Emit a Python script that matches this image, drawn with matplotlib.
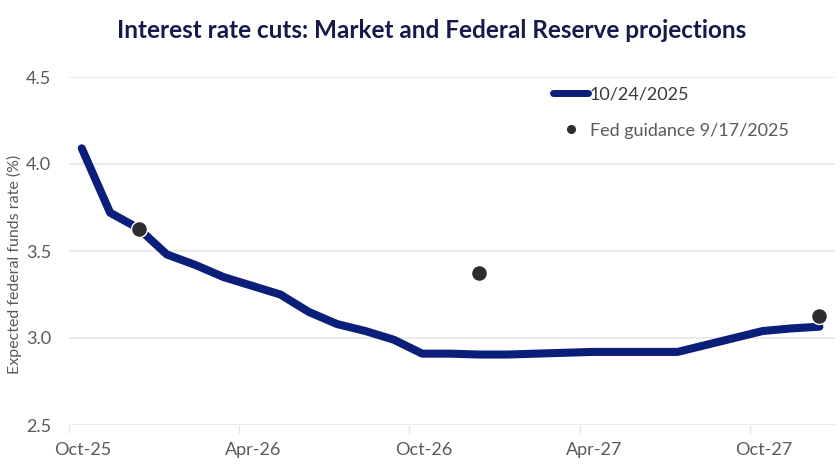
import matplotlib
matplotlib.use("Agg")
import matplotlib.pyplot as plt
import matplotlib.transforms as mtransforms
from matplotlib.lines import Line2D

# months since 1 Oct 2025 (mid-month observations)
months = [k + 0.45 for k in range(27)]
market_rate = [4.09, 3.72, 3.63, 3.48, 3.42, 3.35, 3.30, 3.25, 3.15, 3.08,
               3.04, 2.99, 2.91, 2.91, 2.905, 2.905, 2.91, 2.915, 2.92, 2.92,
               2.92, 2.92, 2.96, 3.00, 3.04, 3.055, 3.065]
fed_months = [2.45, 14.45, 26.45]
fed_rate = [3.625, 3.375, 3.125]
tick_pos = [0, 6, 12, 18, 24]
tick_labels = ["Oct-25", "Apr-26", "Oct-26", "Apr-27", "Oct-27"]
yticks = [2.5, 3.0, 3.5, 4.0, 4.5]

NAVY = "#0a1e7a"
DOT = "#2e2e30"
GRAY = "#5a5a5a"
GRID = "#e6e6e6"

plt.rcParams["font.family"] = ["Lato", "DejaVu Sans"]

fig = plt.figure(figsize=(8.4, 4.72), dpi=100)
ax = fig.add_axes([69/840, 1-425/472, (835-69)/840, (425-77)/472])

ax.plot(months, market_rate, color=NAVY, lw=5.8, solid_capstyle="round",
        solid_joinstyle="round", zorder=3)
ax.plot(fed_months, fed_rate, ls="none", marker="o", ms=11.5, color=DOT,
        mec="white", mew=1.0, zorder=4)

ax.set_xlim(0, 27)
ax.set_ylim(2.5, 4.5)
ax.set_yticks(yticks)
ax.set_yticklabels([f"{v:.1f}" for v in yticks])
ax.set_xticks(tick_pos)
ax.set_xticklabels(tick_labels)
ax.grid(axis="y", color=GRID, lw=1.2, zorder=0)
ax.set_axisbelow(True)
for s in ax.spines.values():
    s.set_visible(False)
ax.tick_params(axis="y", length=0, pad=13, labelsize=13, labelcolor=GRAY)
ax.tick_params(axis="x", length=6, width=1, color=GRID, pad=6, labelsize=13,
               labelcolor=GRAY)
offset = mtransforms.ScaledTranslation(14/100, 0, fig.dpi_scale_trans)
for lab in ax.get_xticklabels():
    lab.set_transform(lab.get_transform() + offset)

fig.text(14/840, 1-264/472, "Expected federal funds rate (%)", rotation=90,
         ha="center", va="center", fontsize=11.5, color=GRAY)

fig.text(432/840, 1-31/472, "Interest rate cuts: Market and Federal Reserve projections",
         ha="center", va="center", fontsize=17.5, fontweight="bold", color="#161a4a")

handles = [Line2D([], [], color=NAVY, lw=5, solid_capstyle="round"),
           Line2D([], [], ls="none", marker="o", ms=5.5, color=DOT)]
leg = ax.legend(handles, ["10/24/2025", "Fed guidance 9/17/2025"],
                loc="upper left", bbox_to_anchor=(553/840, 1-86/472),
                bbox_transform=fig.transFigure, frameon=False, fontsize=13,
                handlelength=1.95, handletextpad=0.1, labelspacing=1.15,
                borderpad=0, borderaxespad=0)
leg.get_texts()[0].set_color("#3a3a3a")
leg.get_texts()[1].set_color(GRAY)

fig.savefig("out.png", dpi=100)
